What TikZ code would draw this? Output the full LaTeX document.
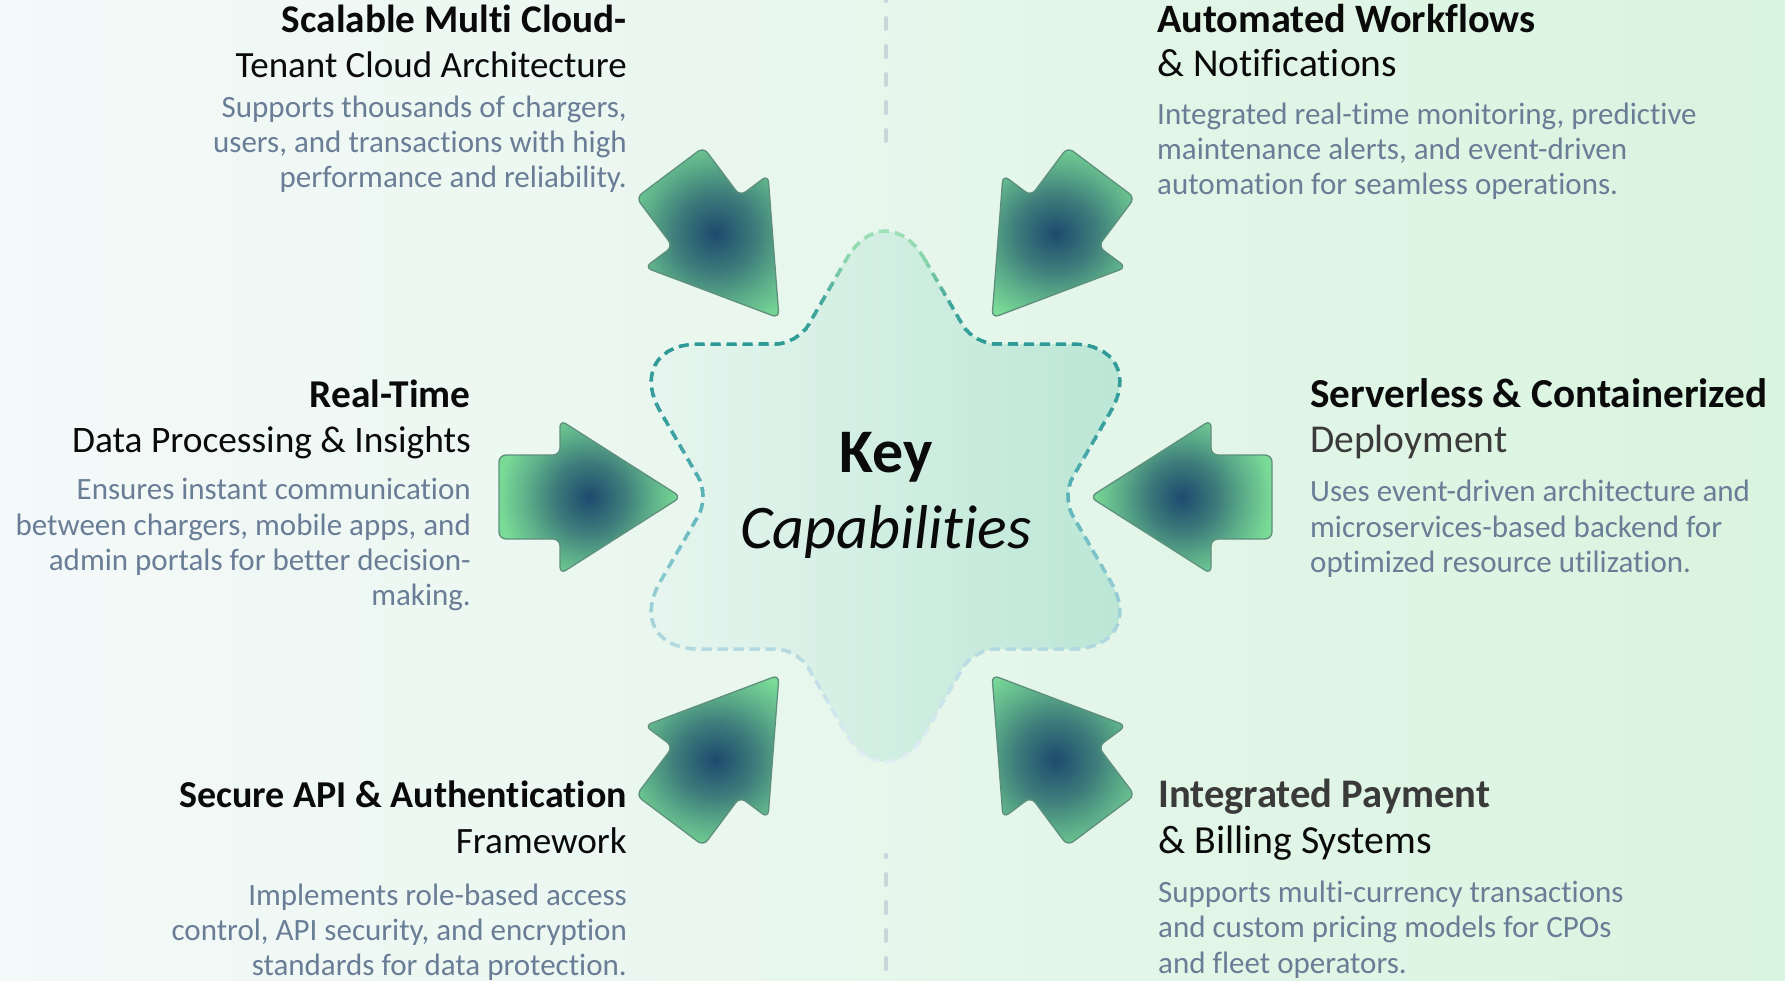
\documentclass[tikz,border=0pt]{standalone}
\usepackage{fontspec}
\setmainfont{Carlito}[Ligatures=NoCommon]
\usetikzlibrary{calc}
\definecolor{bgL}{HTML}{F4F9F9}
\definecolor{bgR}{HTML}{D9F4DF}
\definecolor{starL}{HTML}{E8F6F0}
\definecolor{starR}{HTML}{BAE6D5}
\definecolor{anavy}{HTML}{1D4A6E}
\definecolor{amid}{HTML}{3D7C7B}
\definecolor{amid2}{HTML}{5AAA88}
\definecolor{agreen}{HTML}{7ADB97}
\definecolor{aedge}{HTML}{5E8F7C}
\definecolor{vline}{HTML}{C8D5D9}
\definecolor{ttl}{HTML}{0A0A0A}
\definecolor{ttlgrey}{HTML}{3A3A3A}
\definecolor{desc}{HTML}{6A7D96}
\definecolor{s1}{HTML}{A3E4B8}
\definecolor{s2}{HTML}{86D3AC}
\definecolor{s3}{HTML}{45A99C}
\definecolor{s4}{HTML}{2E9A96}
\definecolor{s5}{HTML}{3BA0A0}
\definecolor{s6}{HTML}{5DB4B8}
\definecolor{s7}{HTML}{8CC9D0}
\definecolor{s8}{HTML}{B5DAE1}
\definecolor{s9}{HTML}{CFE5EC}
\definecolor{s10}{HTML}{E6F0F5}
\pgfdeclarehorizontalshading{bgshade}{100bp}{color(0bp)=(bgL); color(25bp)=(bgL); color(75bp)=(bgR); color(100bp)=(bgR)}
\pgfdeclarehorizontalshading{starshade}{100bp}{color(0bp)=(starL); color(25bp)=(starL); color(75bp)=(starR); color(100bp)=(starR)}
\pgfdeclareradialshading{arrowshade}{\pgfpoint{0bp}{0bp}}{color(0bp)=(anavy); color(8bp)=(amid); color(13.6bp)=(amid2); color(20.5bp)=(agreen); color(50bp)=(agreen)}
\tikzset{
  tb/.style={font=\fontsize{#1}{45}\selectfont\bfseries, text=ttl, inner sep=0pt},
  tr/.style={font=\fontsize{#1}{45}\selectfont, text=ttl, inner sep=0pt},
  dsc/.style={font=\fontsize{31}{35}\selectfont, text=desc, inner sep=0pt},
  vdash/.style={draw=vline, line width=4pt, line cap=round, dash pattern=on 11pt off 17pt},
  starline/.style={line width=3.5pt, dash pattern=on 10pt off 6pt},
  arrowedge/.style={draw=aedge, line width=1.3pt, rounded corners=7pt},
}
\def\arrowpath{(-182,0) -- (-182,42) -- (-121,42) -- (-121,77) -- (0,0) -- (-121,-77) -- (-121,-42) -- (-182,-42) -- cycle}
\newcommand\capsarrow[4]{%
  \coordinate (#1) at #2;
  \begin{scope}[shift={#2}, rotate=#3]
    \begin{scope}
      \clip[rounded corners=7pt] \arrowpath;
      \shade[shading=arrowshade] (-#4,0) circle (110pt);
    \end{scope}
    \draw[arrowedge] \arrowpath;
  \end{scope}}
\def\starpath{(B1) \foreach \k in {2,...,12}{ -- (A\k) .. controls (CA\k) and (CB\k) .. (B\k)} -- (A1) .. controls (CA1) and (CB1) .. (B1) -- cycle}
\begin{document}
\begin{tikzpicture}[x=1pt,y=1pt]
\useasboundingbox (0,0) rectangle (1785,-980);
\shade[shading=bgshade] (0,0) rectangle (1785,-980);
% dashed vertical guide lines
\coordinate (vt1) at (886,-141);
\coordinate (vt2) at (886,12);
\draw[vdash] (vt1) -- (vt2);
\coordinate (vb1) at (886,-855);
\coordinate (vb2) at (886,-995);
\draw[vdash, dash phase=9pt] (vb1) -- (vb2);
% star geometry
\coordinate (C) at (885.5,-496.5);
\foreach \k/\a in {1/90,3/30,5/-30,7/-90,9/-150,11/150}{\coordinate (V\k) at ($(C)+(\a:305)$);}
\foreach \k/\a in {2/60,4/0,6/-60,8/-120,10/180,12/120}{\coordinate (V\k) at ($(C)+(\a:176.1)$);}
\foreach \k/\p/\n/\L in {1/12/2/78pt,2/1/3/22pt,3/2/4/78pt,4/3/5/22pt,5/4/6/78pt,6/5/7/22pt,7/6/8/78pt,8/7/9/22pt,9/8/10/78pt,10/9/11/22pt,11/10/12/78pt,12/11/1/22pt}{
  \coordinate (A\k) at ($(V\k)!\L!(V\p)$);
  \coordinate (B\k) at ($(V\k)!\L!(V\n)$);
  \coordinate (CA\k) at ($(A\k)!0.55!(V\k)$);
  \coordinate (CB\k) at ($(B\k)!0.55!(V\k)$);
}
\shade[shading=starshade] \starpath;
\foreach \ya/\yb/\ca/\cb in {225/265/s1/s2, 265/300/s2/s3, 300/345/s3/s4, 345/430/s4/s5, 430/500/s5/s6, 500/580/s6/s7, 580/650/s7/s8, 650/710/s8/s9, 710/775/s9/s10}{
  \pgfmathtruncatemacro\ns{(\yb-\ya)/5}
  \foreach \j in {1,...,\ns}{
    \pgfmathtruncatemacro\pc{100*(\j-0.5)/\ns}
    \colorlet{bandc}{\cb!\pc!\ca}
    \begin{scope}
      \clip (0,{-\ya-5*\j+5.4}) rectangle (1785,{-\ya-5*\j-0.4});
      \draw[starline, draw=bandc] \starpath;
    \end{scope}
  }
}
% arrows
\capsarrow{aul}{(779,-318)}{-53.13}{106}
\capsarrow{aur}{(992,-318)}{-126.87}{106}
\capsarrow{all}{(779,-675)}{53.13}{106}
\capsarrow{alr}{(992,-675)}{126.87}{106}
\capsarrow{aml}{(681,-497)}{0}{92}
\capsarrow{amr}{(1090,-497)}{180}{92}
% centre text
\node[font=\fontsize{62}{70}\selectfont\bfseries, text=ttl, anchor=base, inner sep=0pt] (key) at (886,-472) {Key};
\node[font=\fontsize{62}{70}\selectfont\itshape, text=ttl, anchor=base, inner sep=0pt] (cap) at (886,-548) {Capabilities};
% upper left
\node[tb=39.2, anchor=base east] (ul1) at (627,-32) {Scalable Multi Cloud-};
\node[tr=37, anchor=base east] (ul2) at (627,-77) {Tenant Cloud Architecture};
\node[dsc, anchor=base east] (ul3) at (627,-117) {Supports thousands of chargers,};
\node[dsc, anchor=base east] (ul4) at (627,-152) {users, and transactions with high};
\node[dsc, anchor=base east] (ul5) at (627,-187) {performance and reliability.};
% upper right
\node[tb=40.3, anchor=base west] (ur1) at (1157,-32) {Automated Workflows};
\node[tr=39.5, anchor=base west] (ur2) at (1157,-76) {\& Notifications};
\node[dsc, anchor=base west] (ur3) at (1157,-124) {Integrated real-time monitoring, predictive};
\node[dsc, anchor=base west] (ur4) at (1157,-159) {maintenance alerts, and event-driven};
\node[dsc, anchor=base west] (ur5) at (1157,-194) {automation for seamless operations.};
% middle left
\node[tb=39.4, anchor=base east] (ml1) at (471,-407) {Real-Time};
\node[tr=37.4, anchor=base east] (ml2) at (471,-452) {Data Processing \& Insights};
\node[dsc, anchor=base east] (ml3) at (471,-499) {Ensures instant communication};
\node[dsc, anchor=base east] (ml4) at (471,-535) {between chargers, mobile apps, and};
\node[dsc, anchor=base east] (ml5) at (471,-570) {admin portals for better decision-};
\node[dsc, anchor=base east] (ml6) at (471,-605) {making.};
% middle right
\node[tb=41.2, anchor=base west] (mr1) at (1310,-407) {Serverless \& Containerized};
\node[tr=39.5, anchor=base west, text=ttlgrey] (mr2) at (1310,-452) {Deployment};
\node[dsc, anchor=base west] (mr3) at (1310,-501) {Uses event-driven architecture and};
\node[dsc, anchor=base west] (mr4) at (1310,-537) {microservices-based backend for};
\node[dsc, anchor=base west] (mr5) at (1310,-572) {optimized resource utilization.};
% lower left
\node[tb=38, anchor=base east] (ll1) at (627,-807) {Secure API \& Authentication};
\node[tr=37.2, anchor=base east] (ll2) at (627,-853) {Framework};
\node[dsc, anchor=base east] (ll3) at (627,-905) {Implements role-based access};
\node[dsc, anchor=base east] (ll4) at (627,-940) {control, API security, and encryption};
\node[dsc, anchor=base east] (ll5) at (627,-975) {standards for data protection.};
% lower right
\node[tb=40.6, anchor=base west, text=ttlgrey] (lr1) at (1158,-807) {Integrated Payment};
\node[tr=39.8, anchor=base west] (lr2) at (1158,-853) {\& Billing Systems};
\node[dsc, anchor=base west] (lr3) at (1158,-902) {Supports multi-currency transactions};
\node[dsc, anchor=base west] (lr4) at (1158,-937) {and custom pricing models for CPOs};
\node[dsc, anchor=base west] (lr5) at (1158,-973) {and fleet operators.};
\end{tikzpicture}
\end{document}
